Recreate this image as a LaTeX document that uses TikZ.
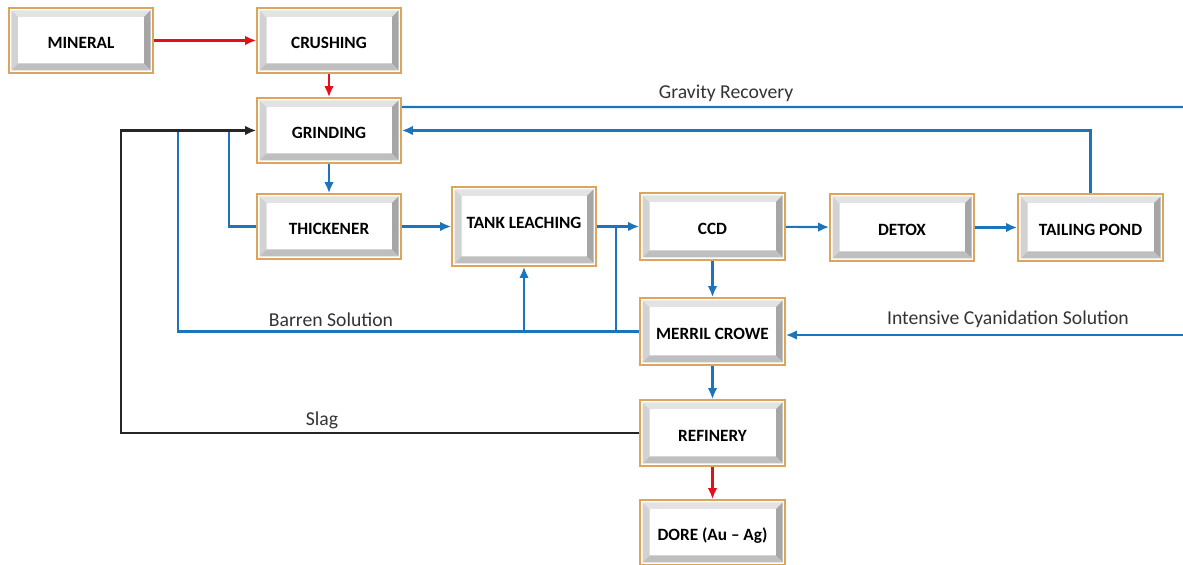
\documentclass[tikz,border=0pt]{standalone}
\usepackage{fontspec}
\setmainfont{Carlito}
\usetikzlibrary{arrows.meta,calc}

\definecolor{boxorange}{HTML}{DDA45C}
\definecolor{flowblue}{HTML}{1C75BC}
\definecolor{flowred}{HTML}{E3101A}
\definecolor{flowblack}{HTML}{262626}

\tikzset{
  unit/.style={draw=boxorange, line width=0.9pt, fill=white,
    minimum width=2.88cm, minimum height=1.3cm, inner sep=0pt,
    text height=0.34cm, text depth=0cm,
    font=\fontsize{9.8}{11}\selectfont\bfseries,
    path picture={
      \coordinate (oa) at ($(path picture bounding box.south west)+(0.05,0.05)$);
      \coordinate (ob) at ($(path picture bounding box.north east)+(-0.05,-0.05)$);
      \coordinate (ia) at ($(oa)+(0.14,0.14)$);
      \coordinate (ib) at ($(ob)+(-0.14,-0.14)$);
      \fill[gray!22] (oa|-ob) -- (ob) -- (ib) -- (ia|-ib) -- cycle;
      \fill[gray!35] (oa) -- (oa|-ob) -- (ia|-ib) -- (ia) -- cycle;
      \fill[gray!70] (ob) -- (ob|-oa) -- (ib|-ia) -- (ib) -- cycle;
      \fill[gray!50] (oa) -- (ob|-oa) -- (ib|-ia) -- (ia) -- cycle;
      \fill[white] (ia) rectangle (ib);
    }},
  flow/.style={line width=1.2pt, -{Latex[length=2.2mm,width=1.9mm]}},
  pipe/.style={line width=1.2pt},
  lbl/.style={font=\fontsize{11.2}{13}\selectfont, text=black!80}
}

\begin{document}
\begin{tikzpicture}
   \useasboundingbox (0,0) rectangle (23.66,-11.3);

   \node[unit] (mineral)  at (1.62,-0.81)  {MINERAL};
   \node[unit] (crushing) at (6.58,-0.81)  {CRUSHING};
   \node[unit] (grinding) at (6.58,-2.61)  {GRINDING};
   \node[unit] (thickener) at (6.58,-4.53) {THICKENER};
   \node[unit, minimum height=1.58cm, text depth=0.26cm] (leaching) at (10.48,-4.53) {TANK LEACHING};
   \node[unit, minimum width=2.9cm, minimum height=1.34cm] (ccd) at (14.25,-4.53) {CCD};
   \node[unit, minimum height=1.34cm] (detox) at (18.04,-4.55) {DETOX};
   \node[unit, minimum width=2.9cm, minimum height=1.34cm] (pond) at (21.81,-4.55) {TAILING POND};
   \node[unit, minimum width=2.9cm, minimum height=1.34cm] (merril) at (14.25,-6.63) {MERRIL CROWE};
   \node[unit, minimum width=2.9cm, minimum height=1.32cm] (refinery) at (14.25,-8.66) {REFINERY};
   \node[unit, minimum width=2.9cm] (dore) at (14.25,-10.65) {DORE (Au -- Ag)};

   \coordinate (gravityout) at (23.66,-2.14);
   \coordinate (cyanin) at (23.66,-6.7);
   \coordinate (barrenup) at (3.56,-2.61);
   \coordinate (slagup) at (2.42,-2.61);
   \coordinate (thickin) at (4.58,-2.61);
   \coordinate (ccdjoin) at (12.32,-4.53);

   % main ore line
   \draw[flow, flowred] (mineral) -- (crushing);
   \draw[flow, flowred] (crushing) -- (grinding);
   \draw[flow, flowblue] (grinding) -- (thickener);
   \draw[flow, flowblue] (thickener) -- (leaching);
   \draw[flow, flowblue] (leaching.east) -- (ccd.west);
   \draw[flow, flowblue] (ccd) -- (detox);
   \draw[flow, flowblue] (detox) -- (pond);
   \draw[flow, flowblue] (ccd) -- (merril);
   \draw[flow, flowblue] (merril) -- (refinery);
   \draw[flow, flowred] (refinery) -- (dore);

   % recycle lines
   \draw[pipe, flowblue] ($(grinding.east)+(0,0.47)$) -- (gravityout);
   \draw[flow, flowblue] (pond.north) |- (grinding.east);
   \draw[flow, flowblue] (cyanin) -- (cyanin-|merril.east);
   \draw[pipe, flowblue] (merril.west) -| (barrenup);
   \draw[flow, flowblue] (merril.west-|leaching.south) -- (leaching.south);
   \draw[pipe, flowblue] (merril.west-|ccdjoin) -- (ccdjoin);
   \draw[pipe, flowblue] (thickin) |- (thickener.west);
   \draw[flow, flowblack] (refinery.west) -| (slagup) -- (grinding.west);

   \node[lbl] (gravitylbl) at (14.52,-1.86) {Gravity Recovery};
   \node[lbl] (barrenlbl) at (6.62,-6.4) {Barren Solution};
   \node[lbl] (cyanlbl) at (20.16,-6.38) {Intensive Cyanidation Solution};
   \node[lbl] (slaglbl) at (6.44,-8.4) {Slag};
 \end{tikzpicture}
\end{document}
